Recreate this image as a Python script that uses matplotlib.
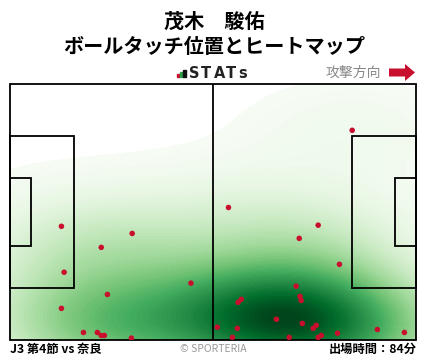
import numpy as np
import matplotlib
matplotlib.use("Agg")
import matplotlib.pyplot as plt
from matplotlib.patches import Rectangle, FancyArrow

plt.rcParams["font.family"] = ["Noto Sans CJK JP", "DejaVu Sans"]

# ボールタッチ位置 (m), ピッチ 105 x 68, 左 -> 右へ攻撃
touch_x = [13.3, 31.6, 23.6, 14.0, 46.8, 25.2, 13.3, 19.0, 22.6, 23.6, 24.4, 31.4,
           88.5, 56.5, 79.7, 74.8, 85.2, 74.0, 75.0, 75.3, 59.8, 59.0, 68.9, 75.6,
           79.2, 78.4, 53.6, 58.8, 95.0, 102.0, 84.7, 80.5, 79.7, 57.5, 72.2]
touch_y = [30.2, 28.3, 24.6, 18.0, 15.1, 12.1, 8.4, 2.0, 2.0, 1.2, 1.2, 0.5,
           55.7, 35.2, 30.5, 27.0, 20.1, 14.3, 11.6, 10.5, 10.8, 10.0, 5.5, 4.4,
           3.9, 3.1, 3.4, 3.1, 2.8, 2.0, 1.8, 1.2, 0.7, 0.7, 0.7]

player_name = "茂木　駿佑"
chart_title = "ボールタッチ位置とヒートマップ"
match_label = "J3 第4節 vs 奈良"
minutes_label = "出場時間：84分"

PITCH_L, PITCH_W = 105.0, 68.0
RED = "#c8102e"


def gaussian_kde_grid(xs, ys, gx, gy, adjust=1.0):
    # scipy の gaussian_kde と同じ Scott ルール (+ bw 調整)
    data = np.vstack([xs, ys])
    n = data.shape[1]
    factor = n ** (-1.0 / 6) * adjust
    cov = np.cov(data) * factor ** 2
    inv = np.linalg.inv(cov)
    pts = np.vstack([gx.ravel(), gy.ravel()])
    dens = np.zeros(pts.shape[1])
    for i in range(n):
        d = pts - data[:, i:i + 1]
        dens += np.exp(-0.5 * np.sum(d * (inv @ d), axis=0))
    return dens.reshape(gx.shape)


def draw_pitch(ax):
    lw = 1.3
    kw = dict(fill=False, edgecolor="black", linewidth=lw, zorder=3, clip_on=False)
    ax.add_patch(Rectangle((0, 0), PITCH_L, PITCH_W, **kw))
    ax.plot([PITCH_L / 2, PITCH_L / 2], [0, PITCH_W], color="black", lw=lw, zorder=3)
    # ペナルティエリア, ゴールエリア
    pa_h, ga_h = 40.32, 18.32
    ax.add_patch(Rectangle((0, (PITCH_W - pa_h) / 2), 16.5, pa_h, **kw))
    ax.add_patch(Rectangle((PITCH_L - 16.5, (PITCH_W - pa_h) / 2), 16.5, pa_h, **kw))
    ax.add_patch(Rectangle((0, (PITCH_W - ga_h) / 2), 5.5, ga_h, **kw))
    ax.add_patch(Rectangle((PITCH_L - 5.5, (PITCH_W - ga_h) / 2), 5.5, ga_h, **kw))


def main():
    W, H = 428, 359
    fig = plt.figure(figsize=(W / 100, H / 100), dpi=100)
    fig.patch.set_facecolor("white")

    ax = fig.add_axes([10 / W, (H - 340) / H, 406 / W, 256 / H])
    ax.set_xlim(0, PITCH_L)
    ax.set_ylim(0, PITCH_W)
    ax.set_axis_off()

    # --- ヒートマップ
    gx, gy = np.meshgrid(np.linspace(0, PITCH_L, 300), np.linspace(0, PITCH_W, 200))
    dens = gaussian_kde_grid(np.array(touch_x), np.array(touch_y), gx, gy, adjust=1.35)
    dens = dens / dens.max()
    levels = np.linspace(0.025, 1.0, 80)
    ax.contourf(gx, gy, dens, levels=levels, cmap="Greens", extend="max", zorder=1)

    draw_pitch(ax)
    ax.scatter(touch_x, touch_y, s=16, color=RED, edgecolors="none", zorder=4)

    # --- ヘッダー
    fig.text(0.5, 1 - 21 / H, player_name, ha="center", va="center",
             fontsize=14.5, fontweight="bold")
    fig.text(0.5, 1 - 46.5 / H, chart_title, ha="center", va="center",
             fontsize=14.5, fontweight="bold")

    # STATs ロゴ
    for x0, h, c in [(177, 3.5, RED), (180.2, 5, "#2e9e48"), (183.4, 7.5, "#111111")]:
        fig.patches.append(Rectangle((x0 / W, 1 - 77 / H), 2.3 / W, h / H,
                                     transform=fig.transFigure, color=c))
    for i, ch in enumerate("STATs"):
        fig.text((189 + i * 12.3) / W, 1 - 73 / H, ch, ha="left", va="center",
                 fontsize=10.5, fontweight="bold", family="DejaVu Sans", color="#222222")

    fig.text(381 / W, 1 - 72.5 / H, "攻撃方向", ha="right", va="center",
             fontsize=10, color="#888888")
    fig.patches.append(FancyArrow(389 / W, 1 - 72.5 / H, 26 / W, 0,
                                  width=8 / H, head_width=17 / H, head_length=10 / W,
                                  length_includes_head=True, transform=fig.transFigure,
                                  color="#c8102e", linewidth=0))

    # --- フッター
    fig.text(10 / W, 1 - 349 / H, match_label, ha="left", va="center",
             fontsize=8.8, fontweight="bold")
    fig.text(213 / W, 1 - 348.5 / H, "© SPORTERIA", ha="center", va="center",
             fontsize=7.5, color="#999999")
    fig.text(417 / W, 1 - 349 / H, minutes_label, ha="right", va="center",
             fontsize=8.8, fontweight="bold")

    fig.savefig("out.png", dpi=100)
    plt.close(fig)


if __name__ == "__main__":
    main()
